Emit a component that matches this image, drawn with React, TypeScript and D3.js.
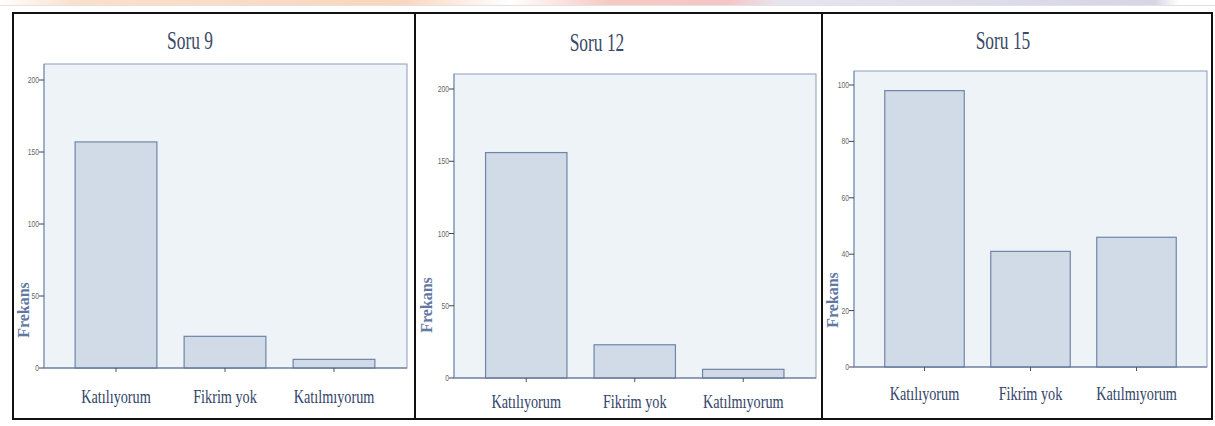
import React from "react";
import * as d3 from "d3";

const categories = ["Katılıyorum", "Fikrim yok", "Katılmıyorum"];
const titles = ["Soru 9", "Soru 12", "Soru 15"];
const soru9 = [157, 22, 6];
const soru12 = [156, 23, 6];
const soru15 = [98, 41, 46];
const ticks9 = [0, 50, 100, 150, 200];
const ticks12 = [0, 50, 100, 150, 200];
const ticks15 = [0, 20, 40, 60, 80, 100];
const yAxisTitle = "Frekans";

const seriesList = [soru9, soru12, soru15];
const tickList = [ticks9, ticks12, ticks15];

// layout (pixel geometry) per panel
const layouts = [
  { frame: [13, 13, 415, 419], left: 44, right: 407, top: 64, zero: 368, maxY: 80, band: [61.5, 388.5], titleX: 190, titleY: 49, labelY: 403, ylx: 23, yly: 310 },
  { frame: [415, 13, 823, 419], left: 454, right: 816, top: 74, zero: 378, maxY: 89, band: [472, 797.5], titleX: 597, titleY: 51, labelY: 408, ylx: 426, yly: 305 },
  { frame: [822, 13, 1212, 419], left: 854, right: 1207, top: 71, zero: 367, maxY: 85, band: [871.5, 1189.5], titleX: 1003, titleY: 49, labelY: 400, ylx: 832, yly: 300 },
];

const serif = "'Liberation Serif', 'Times New Roman', serif";
const sans = "'Liberation Sans', Arial, sans-serif";

function Panel({ i }: { i: number }) {
  const L = layouts[i];
  const values = seriesList[i];
  const ticks = tickList[i];
  const y = d3.scaleLinear().domain([0, d3.max(ticks) as number]).range([L.zero, L.maxY]);
  const x = d3.scaleBand<string>().domain(categories).range(L.band as [number, number]).paddingInner(0.25).paddingOuter(0.125);
  const [fx0, fy0, fx1, fy1] = L.frame;
  return (
    <g>
      <rect x={fx0} y={fy0} width={fx1 - fx0} height={fy1 - fy0} fill="#ffffff" stroke="#111" strokeWidth={2} />
      <text transform={`translate(${L.titleX},${L.titleY}) scale(0.67,1)`} textAnchor="middle" fontFamily={serif} fontSize={26} fill="#3b4a68">
        {titles[i]}
      </text>
      <rect x={L.left} y={L.top} width={L.right - L.left} height={L.zero - L.top} fill="#eef3f8" stroke="#8a9dbb" strokeWidth={1} />
      {categories.map((c, k) => (
        <rect key={c} x={x(c)} y={y(values[k])} width={x.bandwidth()} height={y(0) - y(values[k])} fill="#d1dbe7" stroke="#6f85a8" strokeWidth={1.2} />
      ))}
      <line x1={L.left} x2={L.right} y1={y(0)} y2={y(0)} stroke="#5f7294" strokeWidth={1.2} />
      <line x1={L.left} x2={L.left} y1={L.top} y2={y(0)} stroke="#7f93b3" strokeWidth={1} />
      {ticks.map((t) => (
        <g key={t}>
          <line x1={L.left - 5} x2={L.left} y1={y(t)} y2={y(t)} stroke="#444" strokeWidth={1} />
          <text transform={`translate(${L.left - 5},${y(t) + 3}) scale(0.75,1)`} textAnchor="end" fontFamily={sans} fontSize={9} fill="#666">
            {t}
          </text>
        </g>
      ))}
      {categories.map((c) => {
        const cx = (x(c) as number) + x.bandwidth() / 2;
        return (
          <g key={c}>
            <line x1={cx} x2={cx} y1={y(0)} y2={y(0) + 4} stroke="#555" strokeWidth={1} />
            <text transform={`translate(${cx},${L.labelY}) scale(0.75,1)`} textAnchor="middle" fontFamily={serif} fontSize={19} fill="#34456a">
              {c}
            </text>
          </g>
        );
      })}
      <text transform={`translate(${L.ylx},${L.yly}) rotate(-90)`} textAnchor="middle" dominantBaseline="central" fontFamily={serif} fontWeight="bold" fontSize={16} fill="#6178a3">
        {yAxisTitle}
      </text>
    </g>
  );
}

export default function App() {
  return (
    <svg width={1215} height={426} style={{ position: "absolute", left: 0, top: 0, display: "block" }}>
      <defs>
        <linearGradient id="topband" x1="0" x2="1" y1="0" y2="0">
          <stop offset="0" stopColor="#ffffff" />
          <stop offset="0.06" stopColor="#fbe0cc" />
          <stop offset="0.33" stopColor="#f9d6bd" />
          <stop offset="0.42" stopColor="#ffffff" />
          <stop offset="0.5" stopColor="#f7c9c4" />
          <stop offset="0.6" stopColor="#f6c6c6" />
          <stop offset="0.64" stopColor="#e7e5ee" />
          <stop offset="0.95" stopColor="#d6d5e6" />
          <stop offset="0.97" stopColor="#ffffff" />
        </linearGradient>
      </defs>
      <rect x={0} y={0} width={1215} height={426} fill="#ffffff" />
      <rect x={0} y={0} width={1215} height={5} fill="url(#topband)" />
      <line x1={0} x2={1215} y1={5.5} y2={5.5} stroke="#e2e2e2" strokeWidth={1} />
      {layouts.map((_, i) => (
        <Panel key={i} i={i} />
      ))}
    </svg>
  );
}
